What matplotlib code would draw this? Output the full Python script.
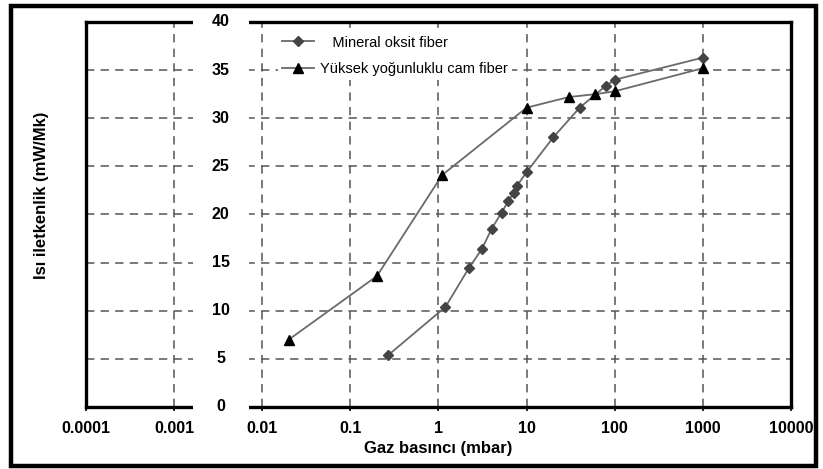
import matplotlib.pyplot as plt
from matplotlib.patches import Rectangle
import matplotlib.transforms as mtransforms

plt.rcParams['font.family'] = ['Liberation Sans', 'DejaVu Sans']
plt.rcParams['lines.scale_dashes'] = False

# data
mineral_p = [0.27, 1.2, 2.2, 3.1, 4.0, 5.2, 6.2, 7.1, 7.8, 10, 20, 40, 80, 100, 1000]
mineral_k = [5.4, 10.4, 14.4, 16.4, 18.5, 20.2, 21.4, 22.2, 23.0, 24.4, 28.0, 31.1, 33.4, 34.0, 36.3]
cam_p = [0.02, 0.2, 1.1, 10, 30, 60, 100, 1000]
cam_k = [7.0, 13.6, 24.1, 31.1, 32.2, 32.5, 32.8, 35.2]

x_ticks = [0.0001, 0.001, 0.01, 0.1, 1, 10, 100, 1000, 10000]
x_labels = ['0.0001', '0.001', '0.01', '0.1', '1', '10', '100', '1000', '10000']
y_ticks = [0, 5, 10, 15, 20, 25, 30, 35, 40]

fig = plt.figure(figsize=(8.23, 4.69), dpi=100)
ax = fig.add_axes([0.1045, 0.1322, 0.8566, 0.8209])

# outer frame
fig.patches.append(Rectangle((10.5 / 823, 3.5 / 469), 805 / 823, 459 / 469,
                             transform=fig.transFigure, fill=False,
                             edgecolor='black', linewidth=3.2))

ax.plot(mineral_p, mineral_k, color='#6a6a6a', lw=1.3, marker='D', ms=5.5,
        mfc='#444444', mec='#444444', label='   Mineral oksit fiber', zorder=5)
ax.plot(cam_p, cam_k, color='#6a6a6a', lw=1.3, marker='^', ms=7,
        mfc='black', mec='black', label='Yüksek yoğunluklu cam fiber', zorder=5)

ax.set_xscale('log')
ax.set_xlim(0.0001, 10000)
ax.set_ylim(0, 40)
ax.set_xticks(x_ticks)
ax.set_xticklabels(x_labels, fontsize=11.5, fontweight='bold')
ax.minorticks_off()
ax.set_yticks(y_ticks)
ax.tick_params(axis='x', direction='out', length=3, width=1.2, pad=7)
ax.tick_params(axis='y', left=False, labelleft=False)

for s in ax.spines.values():
    s.set_linewidth(2.4)

ax.grid(True, color='#555555', linestyle=(0, (6, 4.5)), linewidth=1.1)
ax.set_axisbelow(True)

# white band holding the y tick labels
band = Rectangle((0.152, -0.01), 0.079, 1.02, transform=ax.transAxes,
                 facecolor='white', edgecolor='none', zorder=3, clip_on=False)
ax.add_patch(band)
trans = mtransforms.blended_transform_factory(ax.transAxes, ax.transData)
for v in y_ticks:
    ax.text(0.191, v, str(v), transform=trans, ha='center', va='center',
            fontsize=11.5, fontweight='bold', zorder=4, clip_on=False)

ax.set_xlabel('Gaz basıncı (mbar)', fontsize=12, fontweight='bold', labelpad=4)
fig.text(42 / 823, 1 - 195 / 469, 'Isı iletkenlik (mW/Mk)', rotation=90,
         ha='center', va='center', fontsize=12, fontweight='bold',
         family=['Liberation Sans Narrow', 'Liberation Sans'])

leg = ax.legend(loc='upper left', bbox_to_anchor=(0.262, 0.995), frameon=True,
                fontsize=10.5, handlelength=2.2, handletextpad=0.4,
                labelspacing=0.85, borderpad=0.3, fancybox=False)
leg.get_frame().set_edgecolor('none')
leg.get_frame().set_facecolor('white')
leg.get_frame().set_alpha(1)
leg.set_zorder(6)

fig.savefig('out.png', dpi=100)
